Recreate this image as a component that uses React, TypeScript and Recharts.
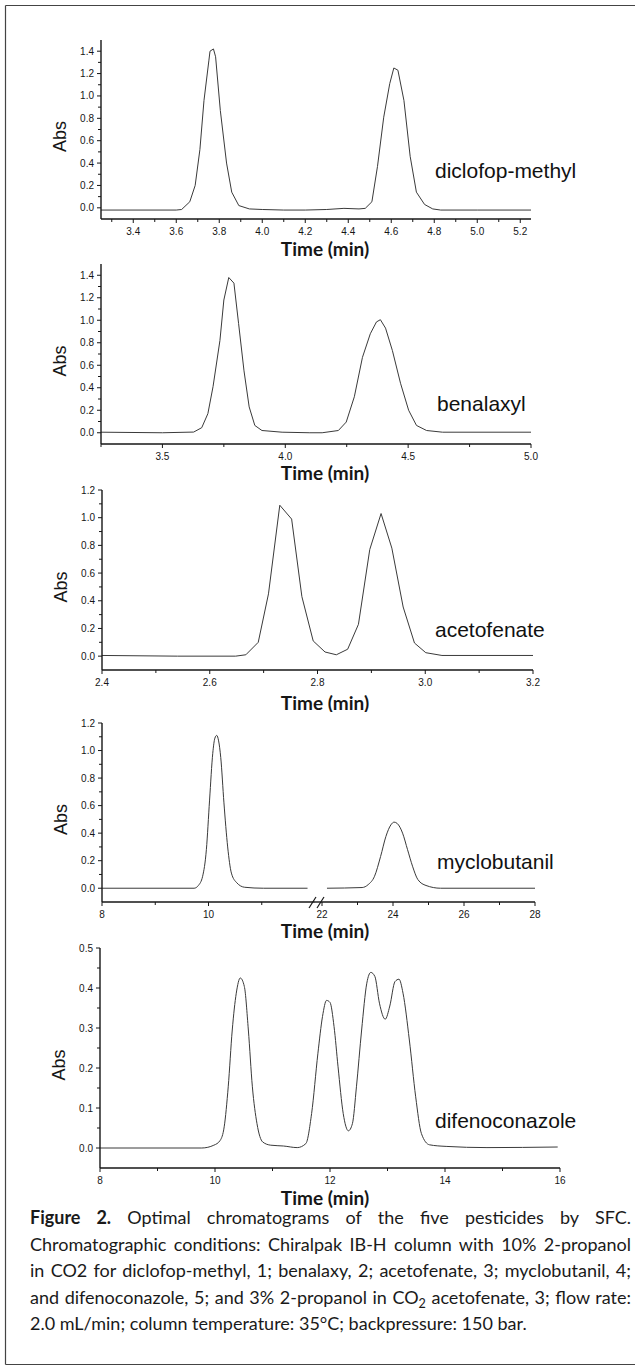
import { Line, LineChart, XAxis, YAxis } from "recharts";

const PAGE_W = 635;
const PAGE_H = 1370;
const INK = "#161616";
const TRACE = "#3a3a3a";
const TICK_FONT = "'Liberation Sans', Arial, sans-serif";
const NAME_FONT = "'Liberation Sans', Arial, sans-serif";
const TITLE_FONT = "Lato, 'Open Sans', sans-serif";
const PAD_TOP = 10;
const X_AXIS_H = 42;
const Y_AXIS_W = 44;
const TITLE_X = 325;

// diclofop-methyl
const DICLOFOP_TIME = [3.25, 3.6, 3.625, 3.663, 3.688, 3.71, 3.729, 3.752, 3.757, 3.773, 3.783, 3.805, 3.834, 3.858, 3.891, 3.94, 4.0, 4.1, 4.2, 4.3, 4.38, 4.45, 4.479, 4.51, 4.536, 4.565, 4.593, 4.612, 4.631, 4.659, 4.688, 4.717, 4.755, 4.793, 4.83, 5.0, 5.25];
const DICLOFOP_ABS = [-0.02, -0.02, -0.015, 0.054, 0.2, 0.52, 0.96, 1.32, 1.4, 1.42, 1.35, 0.87, 0.4, 0.14, 0.02, -0.01, -0.015, -0.02, -0.02, -0.015, -0.005, -0.01, -0.005, 0.054, 0.37, 0.81, 1.11, 1.25, 1.23, 0.96, 0.46, 0.14, 0.03, -0.01, -0.02, -0.02, -0.02];
const DICLOFOP_X_MAJOR = [3.4, 3.6, 3.8, 4.0, 4.2, 4.4, 4.6, 4.8, 5.0, 5.2];
const DICLOFOP_X_MINOR = [3.3, 3.5, 3.7, 3.9, 4.1, 4.3, 4.5, 4.7, 4.9, 5.1];

// benalaxyl
const BENALAXYL_TIME = [3.25, 3.5, 3.627, 3.66, 3.685, 3.706, 3.734, 3.75, 3.77, 3.791, 3.81, 3.832, 3.853, 3.876, 3.905, 3.987, 4.1, 4.15, 4.216, 4.248, 4.281, 4.314, 4.346, 4.371, 4.387, 4.408, 4.436, 4.469, 4.502, 4.534, 4.575, 4.64, 5.0];
const BENALAXYL_ABS = [0.005, 0.0, 0.006, 0.045, 0.17, 0.41, 0.82, 1.18, 1.38, 1.33, 0.97, 0.55, 0.23, 0.065, 0.02, 0.005, 0.0, 0.0, 0.02, 0.095, 0.32, 0.67, 0.88, 0.985, 1.005, 0.93, 0.73, 0.44, 0.2, 0.065, 0.02, 0.005, 0.005];
const BENALAXYL_X_MAJOR = [3.5, 4.0, 4.5, 5.0];
const BENALAXYL_X_MINOR = [3.25, 3.75, 4.25, 4.75];

// acetofenate
const ACETOFENATE_TIME = [2.4, 2.54, 2.648, 2.667, 2.69, 2.709, 2.73, 2.752, 2.771, 2.792, 2.814, 2.835, 2.856, 2.876, 2.897, 2.918, 2.938, 2.959, 2.98, 3.001, 3.031, 3.2];
const ACETOFENATE_ABS = [0.005, 0.0, 0.0, 0.01, 0.1, 0.45, 1.09, 0.99, 0.43, 0.11, 0.03, 0.01, 0.05, 0.23, 0.77, 1.03, 0.78, 0.355, 0.095, 0.025, 0.005, 0.005];
const ACETOFENATE_X_MAJOR = [2.4, 2.6, 2.8, 3.0, 3.2];
const ACETOFENATE_X_MINOR = [2.5, 2.7, 2.9, 3.1];

// myclobutanil (broken time axis: 8-12 | 22-28)
const MYCLO_EARLY_TIME = [8, 9.73, 9.81, 9.89, 9.96, 10.02, 10.08, 10.12, 10.155, 10.19, 10.23, 10.29, 10.36, 10.43, 10.53, 10.68, 11.03, 11.86];
const MYCLO_EARLY_ABS = [0, 0, 0.02, 0.087, 0.28, 0.64, 0.98, 1.09, 1.11, 1.07, 0.95, 0.62, 0.3, 0.11, 0.04, 0.007, 0, 0];
const MYCLO_LATE_TIME = [22.14, 23.13, 23.3, 23.48, 23.65, 23.8, 23.94, 24.03, 24.12, 24.27, 24.41, 24.55, 24.7, 24.93, 25.34, 28];
const MYCLO_LATE_ABS = [0, 0.005, 0.026, 0.087, 0.23, 0.376, 0.46, 0.48, 0.47, 0.4, 0.28, 0.16, 0.063, 0.02, 0, 0];
const MYCLO_EARLY_X_MAJOR = [8, 10];
const MYCLO_EARLY_X_MINOR = [9, 11];
const MYCLO_LATE_X_MAJOR = [22, 24, 26, 28];
const MYCLO_LATE_X_MINOR = [23, 25, 27];

// difenoconazole
const DIFENO_TIME = [8.0, 9.77, 9.98, 10.09, 10.16, 10.23, 10.3, 10.37, 10.44, 10.51, 10.58, 10.65, 10.73, 10.83, 10.97, 11.19, 11.43, 11.58, 11.68, 11.79, 11.87, 11.94, 12.0, 12.07, 12.14, 12.23, 12.32, 12.39, 12.46, 12.55, 12.64, 12.71, 12.78, 12.86, 12.96, 13.04, 13.13, 13.2, 13.27, 13.38, 13.49, 13.59, 13.73, 14.02, 14.73, 15.96];
const DIFENO_ABS = [0.0, 0.0, 0.007, 0.019, 0.053, 0.153, 0.295, 0.387, 0.425, 0.404, 0.295, 0.153, 0.061, 0.015, 0.007, 0.005, 0.001, 0.011, 0.086, 0.237, 0.329, 0.369, 0.364, 0.304, 0.203, 0.086, 0.043, 0.061, 0.153, 0.295, 0.412, 0.439, 0.429, 0.362, 0.322, 0.355, 0.416, 0.422, 0.387, 0.27, 0.128, 0.036, 0.008, 0.004, 0.001, 0.0025];
const DIFENO_X_MAJOR = [8, 10, 12, 14, 16];
const DIFENO_X_MINOR = [9, 11, 13, 15];

// shared Abs ticks
const ABS_MAJOR_14 = [0, 0.2, 0.4, 0.6, 0.8, 1.0, 1.2, 1.4];
const ABS_MINOR_14 = [0.1, 0.3, 0.5, 0.7, 0.9, 1.1, 1.3];
const ABS_MAJOR_12 = [0, 0.2, 0.4, 0.6, 0.8, 1.0, 1.2];
const ABS_MINOR_12 = [0.1, 0.3, 0.5, 0.7, 0.9, 1.1];
const ABS_MAJOR_05 = [0, 0.1, 0.2, 0.3, 0.4, 0.5];
const ABS_MINOR_05 = [0.05, 0.15, 0.25, 0.35, 0.45];

const COMPOUNDS = [
  { name: "diclofop-methyl", x: 435, y: 178 },
  { name: "benalaxyl", x: 437, y: 411 },
  { name: "acetofenate", x: 435, y: 637 },
  { name: "myclobutanil", x: 437, y: 869 },
  { name: "difenoconazole", x: 435, y: 1128 },
];

interface Segment {
  time: number[];
  abs: number[];
  xDomain: [number, number];
  yDomain: [number, number];
  xMajor: number[];
  xMinor: number[];
  yMajor: number[];
  yMinor: number[];
  xDigits: number;
  left: number;
  right: number;
  top: number;
  bottom: number;
  curve: "linear" | "monotone";
  showY: boolean;
  showTitle: boolean;
  titleDy: number;
}

const SEGMENTS: Segment[] = [
  {
    time: DICLOFOP_TIME, abs: DICLOFOP_ABS, xDomain: [3.25, 5.25], yDomain: [-0.1, 1.5],
    xMajor: DICLOFOP_X_MAJOR, xMinor: DICLOFOP_X_MINOR, yMajor: ABS_MAJOR_14, yMinor: ABS_MINOR_14,
    xDigits: 1, left: 101, right: 531, top: 40, bottom: 219, curve: "linear",
    showY: true, showTitle: true, titleDy: 29,
  },
  {
    time: BENALAXYL_TIME, abs: BENALAXYL_ABS, xDomain: [3.25, 5.0], yDomain: [-0.1, 1.5],
    xMajor: BENALAXYL_X_MAJOR, xMinor: BENALAXYL_X_MINOR, yMajor: ABS_MAJOR_14, yMinor: ABS_MINOR_14,
    xDigits: 1, left: 101, right: 531, top: 264, bottom: 444, curve: "linear",
    showY: true, showTitle: true, titleDy: 28,
  },
  {
    time: ACETOFENATE_TIME, abs: ACETOFENATE_ABS, xDomain: [2.4, 3.2], yDomain: [-0.1, 1.2],
    xMajor: ACETOFENATE_X_MAJOR, xMinor: ACETOFENATE_X_MINOR, yMajor: ABS_MAJOR_12, yMinor: ABS_MINOR_12,
    xDigits: 1, left: 102, right: 533, top: 490, bottom: 670, curve: "linear",
    showY: true, showTitle: true, titleDy: 32,
  },
  {
    time: MYCLO_EARLY_TIME, abs: MYCLO_EARLY_ABS, xDomain: [8, 12], yDomain: [-0.1, 1.2],
    xMajor: MYCLO_EARLY_X_MAJOR, xMinor: MYCLO_EARLY_X_MINOR, yMajor: ABS_MAJOR_12, yMinor: ABS_MINOR_12,
    xDigits: 0, left: 102, right: 315, top: 723, bottom: 902, curve: "monotone",
    showY: true, showTitle: false, titleDy: 28,
  },
  {
    time: MYCLO_LATE_TIME, abs: MYCLO_LATE_ABS, xDomain: [22, 28], yDomain: [-0.1, 1.2],
    xMajor: MYCLO_LATE_X_MAJOR, xMinor: MYCLO_LATE_X_MINOR, yMajor: ABS_MAJOR_12, yMinor: ABS_MINOR_12,
    xDigits: 0, left: 322, right: 535, top: 723, bottom: 902, curve: "monotone",
    showY: false, showTitle: true, titleDy: 28,
  },
  {
    time: DIFENO_TIME, abs: DIFENO_ABS, xDomain: [8, 16], yDomain: [-0.05, 0.5],
    xMajor: DIFENO_X_MAJOR, xMinor: DIFENO_X_MINOR, yMajor: ABS_MAJOR_05, yMinor: ABS_MINOR_05,
    xDigits: 0, left: 100, right: 560, top: 948, bottom: 1168, curve: "monotone",
    showY: true, showTitle: true, titleDy: 29,
  },
];

const byValue = (a: number, b: number) => a - b;

function ChartSegment({ seg }: { seg: Segment }) {
  const data = seg.time.map((t, i) => ({ t, v: seg.abs[i] }));
  const plotH = seg.bottom - seg.top;
  const yW = seg.showY ? Y_AXIS_W : 0;

  const xTick = (props: any) => {
    const { x, y, payload } = props;
    const major = seg.xMajor.includes(payload.value);
    return (
      <g>
        <line x1={x} x2={x} y1={y} y2={y + (major ? 4 : 3)} stroke={INK} strokeWidth={1} />
        {major && (
          <text x={x} y={y + 16} textAnchor="middle" fontFamily={TICK_FONT} fontSize={10} fill={INK}>
            {Number(payload.value).toFixed(seg.xDigits)}
          </text>
        )}
      </g>
    );
  };

  const yTick = (props: any) => {
    const { x, y, payload } = props;
    const major = seg.yMajor.includes(payload.value);
    return (
      <g>
        <line x1={x - (major ? 4 : 3)} x2={x} y1={y} y2={y} stroke={INK} strokeWidth={1} />
        {major && (
          <text x={x - 7} y={y + 3.5} textAnchor="end" fontFamily={TICK_FONT} fontSize={10} fill={INK}>
            {Number(payload.value).toFixed(1)}
          </text>
        )}
      </g>
    );
  };

  const timeLabel = () =>
    seg.showTitle ? (
      <text
        x={TITLE_X}
        y={PAD_TOP + plotH + seg.titleDy}
        textAnchor="middle"
        dominantBaseline="central"
        fontFamily={TITLE_FONT}
        fontWeight={700}
        fontSize={19}
        fill={INK}
      >
        Time (min)
      </text>
    ) : null;

  const absLabel = () => {
    const cx = seg.left - 41;
    const cy = PAD_TOP + plotH / 2 + 7;
    return (
      <text
        x={cx}
        y={cy}
        transform={`rotate(-90, ${cx}, ${cy})`}
        textAnchor="middle"
        dominantBaseline="central"
        fontFamily={NAME_FONT}
        fontSize={18}
        fill={INK}
      >
        Abs
      </text>
    );
  };

  return (
    <div style={{ position: "absolute", left: 0, top: seg.top - PAD_TOP }}>
      <LineChart
        width={PAGE_W}
        height={plotH + PAD_TOP + X_AXIS_H}
        data={data}
        margin={{ top: PAD_TOP, bottom: 0, left: seg.left - yW, right: PAGE_W - seg.right }}
      >
        <XAxis
          dataKey="t"
          type="number"
          domain={seg.xDomain}
          allowDataOverflow
          ticks={[...seg.xMajor, ...seg.xMinor].sort(byValue)}
          interval={0}
          tickSize={0}
          tickMargin={0}
          tickLine={false}
          axisLine={{ stroke: INK, strokeWidth: 1.4 }}
          tick={xTick}
          height={X_AXIS_H}
          label={timeLabel}
        />
        <YAxis
          type="number"
          domain={seg.yDomain}
          allowDataOverflow
          ticks={[...seg.yMajor, ...seg.yMinor].sort(byValue)}
          interval={0}
          tickSize={0}
          tickMargin={0}
          tickLine={false}
          axisLine={{ stroke: INK, strokeWidth: 1.4 }}
          tick={yTick}
          width={Y_AXIS_W}
          hide={!seg.showY}
          label={absLabel}
        />
        <Line
          dataKey="v"
          type={seg.curve}
          stroke={TRACE}
          strokeWidth={1}
          dot={false}
          activeDot={false}
          isAnimationActive={false}
        />
      </LineChart>
    </div>
  );
}

const CAPTION_LINES = [
  "Chromatographic conditions: Chiralpak IB-H column with 10% 2-propanol",
  "in CO2 for diclofop-methyl, 1; benalaxy, 2; acetofenate, 3; myclobutanil, 4;",
];

function Caption() {
  const line = (last = false): React.CSSProperties => ({
    whiteSpace: "nowrap",
    textAlign: last ? "left" : "justify",
    textAlignLast: last ? "left" : "justify",
    height: 26.6,
  });
  return (
    <div
      style={{
        position: "absolute",
        left: 30,
        top: 1204,
        width: 601,
        fontFamily: TITLE_FONT,
        fontSize: 18,
        lineHeight: "26.6px",
        color: "#1a1a1a",
      }}
    >
      <div style={line()}>
        <b>Figure 2.</b> Optimal chromatograms of the five pesticides by SFC.
      </div>
      {CAPTION_LINES.map((text) => (
        <div key={text} style={line()}>
          {text}
        </div>
      ))}
      <div style={line()}>
        and difenoconazole, 5; and 3% 2-propanol in CO
        <sub style={{ fontSize: "0.7em", verticalAlign: "-0.3em", lineHeight: 0 }}>2</sub> acetofenate, 3; flow rate:
      </div>
      <div style={line(true)}>2.0 mL/min; column temperature: 35°C; backpressure: 150 bar.</div>
    </div>
  );
}

export default function App() {
  return (
    <div
      style={{
        position: "absolute",
        left: 0,
        top: 0,
        width: PAGE_W,
        height: PAGE_H,
        background: "#ffffff",
        overflow: "hidden",
      }}
    >
      {SEGMENTS.map((seg, i) => (
        <ChartSegment key={i} seg={seg} />
      ))}
      <svg
        width={PAGE_W}
        height={PAGE_H}
        style={{ position: "absolute", left: 0, top: 0, pointerEvents: "none" }}
      >
        <line x1={5.5} y1={5.5} x2={PAGE_W} y2={5.5} stroke="#444" strokeWidth={1.2} />
        <line x1={5.5} y1={5.5} x2={5.5} y2={1364.5} stroke="#444" strokeWidth={1.2} />
        <line x1={5.5} y1={1364.5} x2={PAGE_W} y2={1364.5} stroke="#444" strokeWidth={1.2} />
        {/* axis break for myclobutanil */}
        <line x1={315} y1={902} x2={322} y2={902} stroke={INK} strokeWidth={1.4} />
        <line x1={309} y1={908} x2={316} y2={897} stroke={INK} strokeWidth={1.2} />
        <line x1={317} y1={908} x2={324} y2={897} stroke={INK} strokeWidth={1.2} />
        {COMPOUNDS.map((c) => (
          <text key={c.name} x={c.x} y={c.y} fontFamily={NAME_FONT} fontSize={21} fill="#111">
            {c.name}
          </text>
        ))}
      </svg>
      <Caption />
    </div>
  );
}
